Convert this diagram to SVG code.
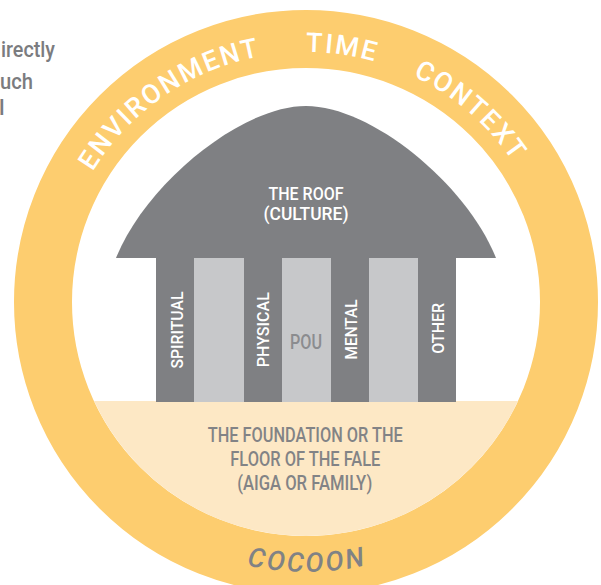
<svg xmlns="http://www.w3.org/2000/svg" width="601" height="585" viewBox="0 0 601 585">
  <style>
    .ringtxt { font-family: Roboto, "Liberation Sans", sans-serif; font-size: 27px; font-weight: 500; fill: #ffffff; letter-spacing: 2px; }
    .cocoon { font-family: Roboto, "Liberation Sans", sans-serif; font-size: 27px; font-weight: 500; font-style: italic; fill: #808285; letter-spacing: 2.5px; }
    .w { font-family: Roboto, "Liberation Sans", sans-serif; font-weight: 500; fill: #ffffff; text-anchor: middle; }
    .g { font-family: Roboto, "Liberation Sans", sans-serif; font-weight: 500; fill: #828386; text-anchor: middle; }
    .side { font-family: Roboto, "Liberation Sans", sans-serif; font-weight: 500; fill: #7b7c7f; font-size: 22px; }
    .dark { fill: #7f8083; }
    .light { fill: #c7c8ca; }
  </style>
  <defs>
    <path id="topArc" d="M56,302 A250,250 0 0 1 556,302"/>
    <path id="botArc" d="M36,302 A270,270 0 0 0 576,302"/>
  </defs>
  <rect width="601" height="585" fill="#ffffff"/>

  <g id="side-text">
    <text class="side" x="1" y="57" textLength="54" lengthAdjust="spacingAndGlyphs">irectly</text>
    <text class="side" x="0" y="89" textLength="33" lengthAdjust="spacingAndGlyphs">uch</text>
    <text class="side" x="-1" y="115">l</text>
  </g>

  <g id="ring">
    <circle cx="306" cy="302" r="263" fill="none" stroke="#fdcd6f" stroke-width="58"/>
    <text class="ringtxt" text-anchor="middle"><textPath href="#topArc" startOffset="242">ENVIRONMENT</textPath></text>
    <text class="ringtxt" text-anchor="middle"><textPath href="#topArc" startOffset="428">TIME</textPath></text>
    <text class="ringtxt" text-anchor="middle"><textPath href="#topArc" startOffset="570">CONTEXT</textPath></text>
    <text class="cocoon" text-anchor="middle"><textPath href="#botArc" startOffset="425">COCOON</textPath></text>
  </g>

  <g id="foundation">
    <path d="M94,401 L518,401 A234,234 0 0 1 94,401 Z" fill="#fde8c5"/>
    <text class="g" x="305.3" y="441.7" font-size="19.5" textLength="195" lengthAdjust="spacingAndGlyphs">THE FOUNDATION OR THE</text>
    <text class="g" x="305.3" y="466" font-size="19.5" textLength="150" lengthAdjust="spacingAndGlyphs">FLOOR OF THE FALE</text>
    <text class="g" x="304.7" y="490" font-size="19.5" textLength="135" lengthAdjust="spacingAndGlyphs">(AIGA OR FAMILY)</text>
  </g>

  <g id="roof">
    <path class="dark" d="M116,258 C145,185 240,106 306,106 C372,106 467,185 496,258 Z"/>
    <text class="w" x="306" y="200" font-size="18.5" textLength="75" lengthAdjust="spacingAndGlyphs">THE ROOF</text>
    <text class="w" x="306" y="219.5" font-size="18.5" textLength="85" lengthAdjust="spacingAndGlyphs">(CULTURE)</text>
  </g>

  <g id="pillars">
    <rect class="dark" x="156" y="257" width="300" height="145"/>
    <rect class="light" x="194" y="258" width="50" height="144"/>
    <rect class="light" x="282" y="258" width="49" height="144"/>
    <rect class="light" x="369" y="258" width="49" height="144"/>
    <text class="w" font-size="17" transform="translate(182.7,330) rotate(-90)" textLength="77" lengthAdjust="spacingAndGlyphs">SPIRITUAL</text>
    <text class="w" font-size="17" transform="translate(269.3,329.7) rotate(-90)" textLength="75" lengthAdjust="spacingAndGlyphs">PHYSICAL</text>
    <text class="w" font-size="17" transform="translate(356.7,329.5) rotate(-90)" textLength="60" lengthAdjust="spacingAndGlyphs">MENTAL</text>
    <text class="w" font-size="17" transform="translate(444,328.3) rotate(-90)" textLength="51" lengthAdjust="spacingAndGlyphs">OTHER</text>
    <text x="306" y="349" font-size="19.5" font-weight="500" text-anchor="middle" fill="#8b8c8f" font-family="Roboto, 'Liberation Sans', sans-serif" textLength="32" lengthAdjust="spacingAndGlyphs">POU</text>
  </g>
</svg>
